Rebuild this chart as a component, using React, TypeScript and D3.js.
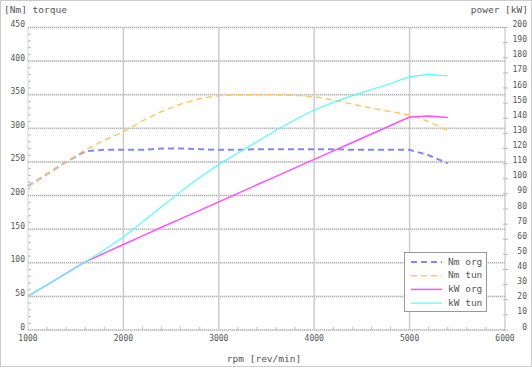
import React from 'react';
import * as d3 from 'd3';

// rpm sample points
const rpm = [1000, 1200, 1400, 1600, 1800, 2000, 2200, 2400, 2600, 2800, 3000, 3200, 3400, 3600, 3800, 4000, 4200, 4400, 4600, 4800, 5000, 5200, 5400];
// torque [Nm]
const nmOrg = [214, 232, 250, 266, 268, 268, 268, 270, 270, 269, 268, 268, 269, 269, 269, 269, 269, 268, 268, 268, 268, 260, 248];
const nmTun = [214, 232, 250, 268, 282, 295, 311, 325, 336, 344, 349, 350, 350, 350, 349, 347, 342, 336, 330, 325, 320, 310, 297];
// power [kW]
const kwOrg = [22.4, 29.9, 37.4, 45, 50.8, 56.5, 62.2, 67.9, 73.5, 79.1, 84.7, 90.3, 96, 101.6, 107.2, 112.8, 118.4, 124, 129.6, 135.2, 140.8, 141.5, 140.5];
const kwTun = [22.4, 29.9, 37.4, 45, 53, 61.5, 71.5, 81.5, 91.5, 101, 109.5, 117, 124.5, 132, 139, 145.5, 150.5, 155, 159, 163, 167.5, 169, 168];

const nmTicks = [0, 50, 100, 150, 200, 250, 300, 350, 400, 450];
const kwTicks = d3.range(0, 201, 10);
const rpmTicks = [1000, 2000, 3000, 4000, 5000, 6000];

const series = [
  { name: 'Nm org', values: nmOrg, axis: 'nm', color: '#8484ff', dash: '6,4', width: 2 },
  { name: 'Nm tun', values: nmTun, axis: 'nm', color: '#ffc860', dash: '6,4', width: 1.5 },
  { name: 'kW org', values: kwOrg, axis: 'kw', color: '#ff50ff', dash: null, width: 1.5 },
  { name: 'kW tun', values: kwTun, axis: 'kw', color: '#50ffff', dash: null, width: 1.2 },
];

const W = 532;
const H = 367;
const left = 28, right = 505, top = 27.5, bottom = 330;
const mono = '"DejaVu Sans Mono", monospace';
const textColor = '#555';

export default function App() {
  const x = d3.scaleLinear().domain([1000, 6000]).range([left, right]);
  const yNm = d3.scaleLinear().domain([0, 450]).range([bottom, top]);
  const yKw = d3.scaleLinear().domain([0, 200]).range([bottom, top]);

  const minorRpm = d3.range(1000, 6001, 200).filter(v => v % 1000 !== 0);
  const minorNm = d3.range(0, 451, 10).filter(v => v % 50 !== 0);

  return (
    <svg width={W} height={H} style={{ position: 'absolute', left: 0, top: 0, background: '#fff' }}>
      <rect x={0.5} y={0.5} width={W - 1} height={H - 1} fill="#fff" stroke="#ccc" />

      {/* horizontal grid */}
      {nmTicks.map(t => (
        <g key={'h' + t}>
          <line x1={left} x2={right} y1={yNm(t)} y2={yNm(t)} stroke="#e4e4e4" strokeWidth={2} />
          <line x1={left} x2={right} y1={yNm(t)} y2={yNm(t)} stroke="#aaa" strokeDasharray="1,1" />
        </g>
      ))}
      {/* vertical grid */}
      {rpmTicks.slice(1, -1).map(t => (
        <line key={'v' + t} x1={x(t)} x2={x(t)} y1={top} y2={bottom} stroke="#ccc" strokeWidth={1.5} />
      ))}
      <line x1={left} x2={left} y1={top} y2={bottom} stroke="#aaa" strokeDasharray="1,1" />
      <line x1={right} x2={right} y1={top} y2={bottom} stroke="#bbb" />

      {/* minor ticks */}
      {minorRpm.map(t => (
        <line key={'mr' + t} x1={x(t)} x2={x(t)} y1={bottom} y2={bottom - 3} stroke="#bbb" />
      ))}
      {minorNm.map(t => (
        <line key={'mn' + t} x1={left} x2={left + 3} y1={yNm(t)} y2={yNm(t)} stroke="#bbb" />
      ))}
      {kwTicks.map(t => (
        <line key={'mk' + t} x1={right - 2} x2={right + 3} y1={yKw(t)} y2={yKw(t)} stroke="#bbb" />
      ))}

      {/* tick labels */}
      {nmTicks.map(t => (
        <text key={'ln' + t} x={left - 3} y={yNm(t) - 3} textAnchor="end" dominantBaseline="middle"
          fontFamily={mono} fontSize={8} fill={textColor}>{t}</text>
      ))}
      {kwTicks.map(t => (
        <text key={'lk' + t} x={527} y={yKw(t) - 3} textAnchor="end" dominantBaseline="middle"
          fontFamily={mono} fontSize={8} fill={textColor}>{t}</text>
      ))}
      {rpmTicks.map(t => (
        <text key={'lr' + t} x={x(t)} y={338.5} textAnchor="middle" dominantBaseline="middle"
          fontFamily={mono} fontSize={8} fill={textColor}>{t}</text>
      ))}

      {/* titles */}
      <text x={4} y={10} dominantBaseline="middle" fontFamily={mono} fontSize={9.5} fill={textColor}>[Nm] torque</text>
      <text x={528} y={10} textAnchor="end" dominantBaseline="middle" fontFamily={mono} fontSize={9.5} fill={textColor}>power [kW]</text>
      <text x={264} y={359} textAnchor="middle" dominantBaseline="middle" fontFamily={mono} fontSize={9.5} fill={textColor}>rpm [rev/min]</text>

      {/* series */}
      {series.map(s => {
        const y = s.axis === 'nm' ? yNm : yKw;
        const line = d3.line<number>().x((_, i) => x(rpm[i])).y(d => y(d));
        return (
          <path key={s.name} d={line(s.values) || ''} fill="none" stroke={s.color}
            strokeWidth={s.width} strokeDasharray={s.dash || undefined} />
        );
      })}

      {/* legend */}
      <g transform="translate(404,252)">
        <rect x={0.5} y={0.5} width={82} height={59} fill="#fff" stroke="#999" />
        {series.map((s, i) => (
          <g key={'lg' + s.name} transform={`translate(0,${10 + i * 13.7})`}>
            <line x1={7} x2={38} y1={0} y2={0} stroke={s.color} strokeWidth={s.width}
              strokeDasharray={s.dash || undefined} />
            <text x={44} y={0} dominantBaseline="middle" fontFamily={mono} fontSize={9.5} fill={textColor}>{s.name}</text>
          </g>
        ))}
      </g>
    </svg>
  );
}
